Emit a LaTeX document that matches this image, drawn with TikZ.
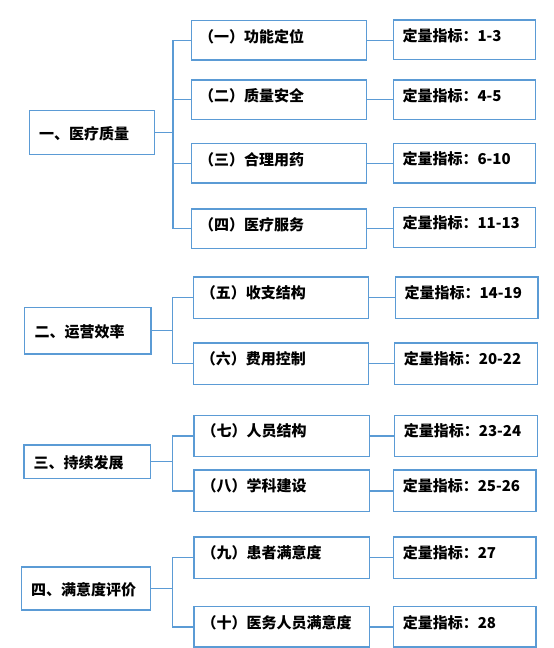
\documentclass[tikz,border=0pt]{standalone}
\usepackage{fontspec}
\setmainfont{Noto Sans CJK SC}
\definecolor{lineblue}{RGB}{91,155,213}
\tikzset{
  boxs/.style={draw=lineblue, line width=1.2pt, rectangle, inner sep=0pt, outer sep=0pt},
  conn/.style={draw=lineblue, line width=1.2pt},
  lbl/.style={anchor=west, inner sep=0pt, font=\fontsize{15}{15}\selectfont\bfseries, text=black}
}
\newcommand{\bx}[5]{\node[boxs, minimum width={#4-#2}, minimum height={#5-#3}] (#1) at ({(#2+#4)/2},{(#3+#5)/2}) {};}
\newcommand{\subtxt}[2]{\node[lbl] (#1t) at ([xshift=7.3pt,yshift=-16pt]#1.north west) {#2};}
\newcommand{\rtxt}[2]{\node[lbl] (#1t) at ([xshift=9pt,yshift=-15.5pt]#1.north west) {#2};}
\newcommand{\mtxt}[2]{\node[lbl] (#1t) at ([xshift=9.5pt,yshift=-1.5pt]#1.west) {#2};}
\begin{document}
\begin{tikzpicture}[x=1pt,y=-1pt]
\useasboundingbox (0,0) rectangle (554,648);
% group 1
\bx{m1}{29.3}{110.3}{154.7}{154.3}
\bx{s1}{191.7}{20.7}{366.7}{60}
\bx{r1}{393.3}{20}{535.3}{59.3}
\bx{s2}{191.7}{80}{366.7}{119.3}
\bx{r2}{393.3}{80}{535.3}{119.3}
\bx{s3}{191.7}{143.3}{366.7}{183}
\bx{r3}{393.3}{143.3}{535.3}{183}
\bx{s4}{191.7}{209}{366.7}{248.3}
\bx{r4}{393.3}{207.7}{535.3}{247.7}
% group 2
\bx{m2}{24.8}{307.2}{151}{354}
\bx{s5}{193.3}{277}{368.8}{318.5}
\bx{r5}{395.4}{277}{538}{318.5}
\bx{s6}{193.3}{343}{368.8}{384.5}
\bx{r6}{394.7}{343}{537.2}{384.5}
% group 3
\bx{m3}{24}{445}{150.4}{478.4}
\bx{s7}{194}{415.3}{369.5}{456.8}
\bx{r7}{394.7}{415.3}{537.2}{456.8}
\bx{s8}{194}{470}{369.5}{511.8}
\bx{r8}{393.6}{470}{536}{511.8}
% group 4
\bx{m4}{21.3}{567}{150.4}{610}
\bx{s9}{194}{537}{369.5}{578.4}
\bx{r9}{393.6}{537}{536}{578.4}
\bx{s10}{194}{606.8}{369.5}{647}
\bx{r10}{393.6}{606.8}{536}{647}
% texts
\mtxt{m1}{一、医疗质量}
\mtxt{m2}{二、运营效率}
\mtxt{m3}{三、持续发展}
\mtxt{m4}{四、满意度评价}
\subtxt{s1}{（一）功能定位}
\subtxt{s2}{（二）质量安全}
\subtxt{s3}{（三）合理用药}
\subtxt{s4}{（四）医疗服务}
\subtxt{s5}{（五）收支结构}
\subtxt{s6}{（六）费用控制}
\subtxt{s7}{（七）人员结构}
\subtxt{s8}{（八）学科建设}
\subtxt{s9}{（九）患者满意度}
\subtxt{s10}{（十）医务人员满意度}
\rtxt{r1}{定量指标：1-3}
\rtxt{r2}{定量指标：4-5}
\rtxt{r3}{定量指标：6-10}
\rtxt{r4}{定量指标：11-13}
\rtxt{r5}{定量指标：14-19}
\rtxt{r6}{定量指标：20-22}
\rtxt{r7}{定量指标：23-24}
\rtxt{r8}{定量指标：25-26}
\rtxt{r9}{定量指标：27}
\rtxt{r10}{定量指标：28}
% trunks
\coordinate (t1) at (173,0);
\coordinate (t2) at (172.3,0);
\foreach \s in {s1,s2,s3,s4}{\draw[conn] (m1.east) -- (m1.east -| t1) |- (\s.west);}
\foreach \s in {s5,s6}{\draw[conn] (m2.east) -- (m2.east -| t2) |- (\s.west);}
\foreach \s in {s7,s8}{\draw[conn] (m3.east) -- (m3.east -| t2) |- (\s.west);}
\foreach \s in {s9,s10}{\draw[conn] (m4.east) -- (m4.east -| t2) |- (\s.west);}
% links to indicator boxes
\foreach \i in {1,...,10}{\draw[conn] (s\i.east) -- (s\i.east -| r\i.west);}
\end{tikzpicture}
\end{document}
